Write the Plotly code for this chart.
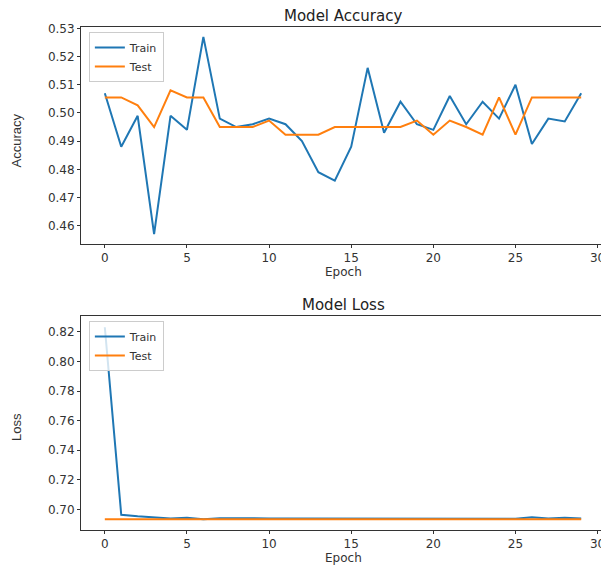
import plotly.graph_objects as go

epochs = list(range(30))
acc_train = [0.507, 0.488, 0.499, 0.457, 0.499, 0.494, 0.527, 0.498, 0.495, 0.496,
             0.498, 0.496, 0.490, 0.479, 0.476, 0.488, 0.516, 0.493, 0.504, 0.496,
             0.494, 0.506, 0.496, 0.504, 0.498, 0.510, 0.489, 0.498, 0.497, 0.507]
acc_test = [0.5055, 0.5055, 0.5027, 0.4950, 0.5080, 0.5055, 0.5055, 0.4950, 0.4950, 0.4950,
            0.4973, 0.4923, 0.4923, 0.4923, 0.4950, 0.4950, 0.4950, 0.4950, 0.4950, 0.4973,
            0.4923, 0.4973, 0.4950, 0.4923, 0.5055, 0.4923, 0.5055, 0.5055, 0.5055, 0.5055]
loss_train = [0.823, 0.6965, 0.6955, 0.6950, 0.6940, 0.6945, 0.6935, 0.6942, 0.6940, 0.6938,
              0.6940, 0.6940, 0.6940, 0.6940, 0.6943, 0.6940, 0.6940, 0.6943, 0.6940, 0.6938,
              0.6940, 0.6940, 0.6940, 0.6940, 0.6940, 0.6938, 0.6948, 0.6940, 0.6945, 0.6940]
loss_test = [0.6935, 0.6935, 0.6935, 0.6935, 0.6935, 0.6935, 0.6930, 0.6935, 0.6935, 0.6935,
             0.6935, 0.6935, 0.6935, 0.6935, 0.6935, 0.6935, 0.6935, 0.6935, 0.6935, 0.6935,
             0.6935, 0.6935, 0.6935, 0.6935, 0.6935, 0.6935, 0.6935, 0.6935, 0.6935, 0.6935]
x_ticks = [0, 5, 10, 15, 20, 25, 30]
acc_ticks = [0.46, 0.47, 0.48, 0.49, 0.50, 0.51, 0.52, 0.53]
loss_ticks = [0.70, 0.72, 0.74, 0.76, 0.78, 0.80, 0.82]

BLUE = "#1f77b4"
ORANGE = "#ff7f0e"
FONT = "DejaVu Sans"
NARROW = "Liberation Sans Narrow, Liberation Sans"
TXT = "#333"

fig = go.Figure()
fig.add_trace(go.Scatter(x=epochs, y=acc_train, mode="lines", name="Train",
                         line=dict(color=BLUE, width=2), xaxis="x", yaxis="y", legend="legend"))
fig.add_trace(go.Scatter(x=epochs, y=acc_test, mode="lines", name="Test",
                         line=dict(color=ORANGE, width=2), xaxis="x", yaxis="y", legend="legend"))
fig.add_trace(go.Scatter(x=epochs, y=loss_train, mode="lines", name="Train",
                         line=dict(color=BLUE, width=2), xaxis="x2", yaxis="y2", legend="legend2"))
fig.add_trace(go.Scatter(x=epochs, y=loss_test, mode="lines", name="Test",
                         line=dict(color=ORANGE, width=2), xaxis="x2", yaxis="y2", legend="legend2"))

axis_common = dict(showline=True, linecolor=TXT, linewidth=1, mirror=True, automargin=False,
                   ticks="outside", ticklen=3, tickcolor=TXT, showgrid=False,
                   zeroline=False, tickfont=dict(family=FONT, size=12, color=TXT))

legend_common = dict(bgcolor="rgba(255,255,255,0.8)", bordercolor="#cccccc", borderwidth=1,
                     font=dict(family=FONT, size=11, color=TXT), xanchor="left", yanchor="top",
                     tracegroupgap=0, itemwidth=30)

TOP_DOM = [0.5686, 1]
BOT_DOM = [0, 0.4254]

# The page body has a default 8px margin, so the figure is sized 8px smaller
fig.update_layout(
    width=601, height=557,
    margin=dict(l=73, r=4, t=19, b=35),
    plot_bgcolor="white", paper_bgcolor="white",
    showlegend=True,
    xaxis=dict(domain=[0, 1], anchor="y", range=[-1.45, 30.45], tickvals=x_ticks, **axis_common),
    yaxis=dict(domain=TOP_DOM, anchor="x", range=[0.4535, 0.5305],
               tickvals=acc_ticks, tickformat=".2f", **axis_common),
    xaxis2=dict(domain=[0, 1], anchor="y2", range=[-1.45, 30.45], tickvals=x_ticks, **axis_common),
    yaxis2=dict(domain=BOT_DOM, anchor="x2", range=[0.6862, 0.8306],
                tickvals=loss_ticks, tickformat=".2f", **axis_common),
    legend=dict(x=0.015, y=0.99, **legend_common),
    legend2=dict(x=0.015, y=0.4155, **legend_common),
    annotations=[
        dict(text="Model Accuracy", xref="paper", yref="paper", x=0.5, y=TOP_DOM[1], yanchor="bottom",
             yshift=0, showarrow=False, font=dict(family=FONT, size=15, color="#222")),
        dict(text="Model Loss", xref="paper", yref="paper", x=0.5, y=BOT_DOM[1], yanchor="bottom",
             yshift=0, showarrow=False, font=dict(family=FONT, size=15, color="#222")),
        dict(text="Epoch", xref="paper", yref="paper", x=0.5, y=TOP_DOM[0], yanchor="top",
             yshift=-19, showarrow=False, font=dict(family=FONT, size=12, color=TXT)),
        dict(text="Epoch", xref="paper", yref="paper", x=0.5, y=BOT_DOM[0], yanchor="top",
             yshift=-19, showarrow=False, font=dict(family=FONT, size=12, color=TXT)),
        dict(text="Accuracy", xref="paper", yref="paper", x=0, y=0.5 * (TOP_DOM[0] + TOP_DOM[1]),
             xanchor="center", yanchor="middle", xshift=-65, yshift=-5, textangle=-90,
             showarrow=False, font=dict(family=NARROW, size=13, color=TXT)),
        dict(text="Loss", xref="paper", yref="paper", x=0, y=0.5 * (BOT_DOM[0] + BOT_DOM[1]),
             xanchor="center", yanchor="middle", xshift=-65, yshift=-4, textangle=-90,
             showarrow=False, font=dict(family=NARROW, size=13, color=TXT)),
    ],
)

fig.write_html("out.html")
